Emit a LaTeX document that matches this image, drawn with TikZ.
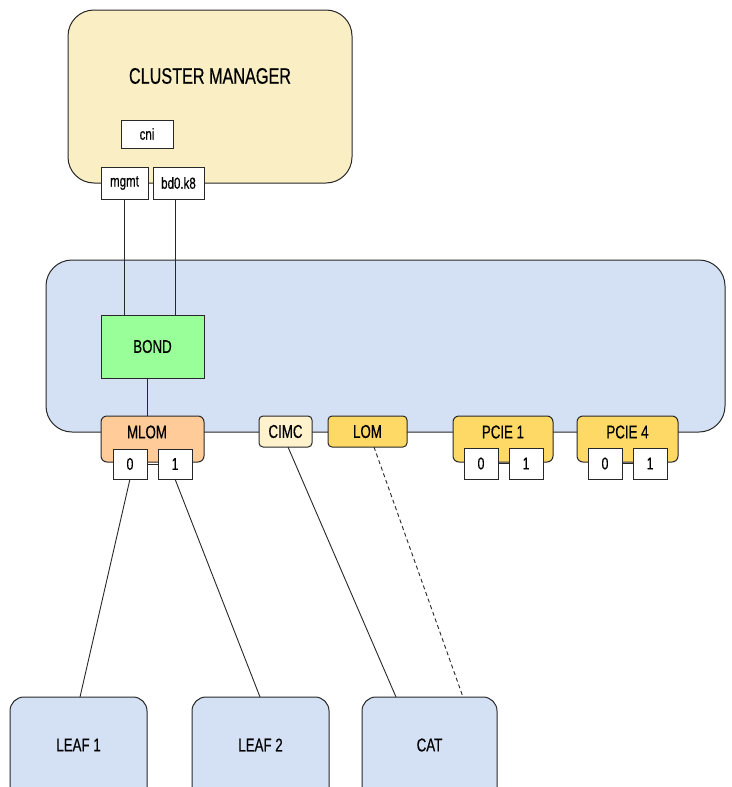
\documentclass[tikz,border=0pt]{standalone}
\usepackage{fontspec}
\setmainfont{Liberation Sans}
\newfontfamily\cond[FakeStretch=0.72,FakeBold=0.4]{Liberation Sans}
\definecolor{cmfill}{RGB}{250,239,196}
\definecolor{bluefill}{RGB}{212,225,245}
\definecolor{bondfill}{RGB}{153,255,153}
\definecolor{mlomfill}{RGB}{255,204,153}
\definecolor{cimcfill}{RGB}{255,242,204}
\definecolor{lomfill}{RGB}{255,217,102}
\definecolor{edge}{RGB}{40,40,40}
\begin{document}
\begin{tikzpicture}[x=1pt,y=-1pt,
  box/.style={draw=edge,line width=1pt},
  port/.style={box,fill=white,font=\cond\fontsize{17}{17}\selectfont},
  lbl/.style={font=\cond\fontsize{18.5}{18.5}\selectfont,text=black},
  small/.style={font=\cond\fontsize{16}{16}\selectfont},
  conn/.style={draw=edge,line width=0.9pt}]
\useasboundingbox (0,0) rectangle (731,787);
\clip (0,0) rectangle (731,787);
\fill[white] (0,0) rectangle (731,787);
% cluster manager
\draw[box,fill=cmfill,rounded corners=26pt] (68,10) rectangle (352,183);
\node[lbl,font=\cond\fontsize{22.5}{22.5}\selectfont] (cmtitle) at (210,76) {CLUSTER MANAGER};
\node[port,small,minimum width=52pt,minimum height=28pt,inner sep=0pt] (cni) at (147,134) {cni};
% big blue box
\draw[box,fill=bluefill,rounded corners=26pt] (46,260) rectangle (725,432);
% interfaces
\node[port,small,minimum width=47pt,minimum height=32pt,inner sep=0pt] (mgmt) at (124.5,183) {mgmt};
\node[port,small,minimum width=51pt,minimum height=32pt,inner sep=0pt] (bd) at (178.5,183) {bd0.k8};
\node[box,fill=bondfill,minimum width=103pt,minimum height=63pt,inner sep=0pt,lbl] (bond) at (152.5,346.5) {BOND};
\draw[conn] (124,199) -- (124,315);
\draw[conn] (175,199) -- (175,315);
% MLOM
\node[box,fill=mlomfill,rounded corners=6pt,minimum width=103pt,minimum height=46pt,inner sep=0pt] (mlom) at (152.5,439) {};
\node[lbl] (mlomt) at (147,432) {MLOM};
\draw[conn] (bond.south -| 147,0) -- (147,416);
\node[port,minimum width=34pt,minimum height=30pt,inner sep=0pt] (m0) at (130,464) {0};
\node[port,minimum width=34pt,minimum height=30pt,inner sep=0pt] (m1) at (175,464) {1};
\draw[conn] (m0) -- (m1);
% CIMC, LOM
\node[box,fill=cimcfill,rounded corners=4pt,minimum width=53pt,minimum height=31pt,inner sep=0pt,lbl] (cimc) at (285.5,431.5) {CIMC};
\node[box,fill=lomfill,rounded corners=4pt,minimum width=79pt,minimum height=31pt,inner sep=0pt,lbl] (lom) at (367.5,431.5) {LOM};
% PCIE 1
\node[box,fill=lomfill,rounded corners=6pt,minimum width=100pt,minimum height=46pt,inner sep=0pt] (p1) at (503,439) {};
\node[lbl] (p1t) at (503,432) {PCIE 1};
\node[port,minimum width=34pt,minimum height=31pt,inner sep=0pt] (p10) at (481,463.5) {0};
\node[port,minimum width=34pt,minimum height=31pt,inner sep=0pt] (p11) at (526,463.5) {1};
\draw[conn] (p10) -- (p11);
% PCIE 4
\node[box,fill=lomfill,rounded corners=6pt,minimum width=101pt,minimum height=46pt,inner sep=0pt] (p4) at (627.5,439) {};
\node[lbl] (p4t) at (627.5,432) {PCIE 4};
\node[port,minimum width=34pt,minimum height=31pt,inner sep=0pt] (p40) at (605,463.5) {0};
\node[port,minimum width=34pt,minimum height=31pt,inner sep=0pt] (p41) at (650,463.5) {1};
\draw[conn] (p40) -- (p41);
% bottom boxes
\draw[box,fill=bluefill,rounded corners=14pt] (10,697) rectangle (147,810);
\node[lbl] (leaf1) at (78.5,745) {LEAF 1};
\draw[box,fill=bluefill,rounded corners=14pt] (192,697) rectangle (329,810);
\node[lbl] (leaf2) at (260.5,745) {LEAF 2};
\draw[box,fill=bluefill,rounded corners=14pt] (362,697) rectangle (497,810);
\node[lbl] (cat) at (429.5,745) {CAT};
\coordinate (l1top) at (80,697);
\coordinate (l2top) at (260,697);
\coordinate (cat1) at (396,697);
\coordinate (cat2) at (463,697);
\draw[conn] (130,479) -- (l1top);
\draw[conn] (175,479) -- (l2top);
\draw[conn] (288,447) -- (cat1);
\draw[conn,dashed,dash pattern=on 4pt off 3pt] (374,447) -- (cat2);
\end{tikzpicture}
\end{document}
